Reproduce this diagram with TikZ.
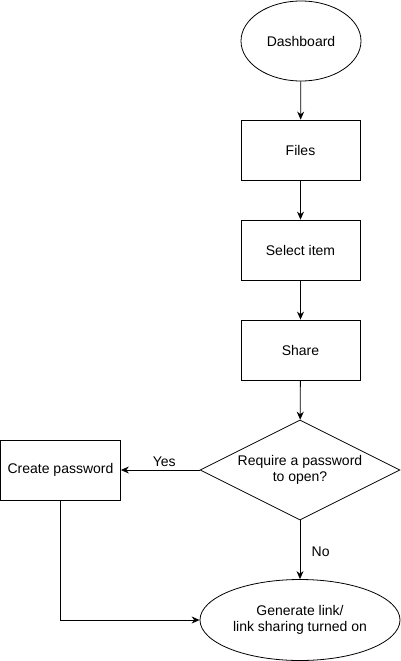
\documentclass[tikz,border=0pt]{standalone}
\usepackage{fontspec}
\setmainfont{Liberation Sans}
\usetikzlibrary{shapes.geometric}
\usetikzlibrary{arrows.meta}

\begin{document}
\begin{tikzpicture}[x=1pt, y=-1pt, line width=0.8pt,
    font=\fontsize{14}{16.5}\selectfont,
    box/.style = {draw, rectangle, minimum width=119pt, minimum height=60pt, inner sep=0pt},
    oval/.style = {draw, ellipse, inner sep=0pt, align=center},
    choice/.style = {draw, diamond, aspect=2, minimum width=200pt, minimum height=100pt, inner sep=0pt, align=center},
    flow/.style = {-{Stealth[length=8pt, width=7pt]}}]
  \useasboundingbox (0,0) rectangle (401,661);

  % main column
  \node[oval, minimum width=120pt, minimum height=80pt] (dash) at (301,41) {Dashboard};
  \node[box] (files) at (300.5,150) {Files};
  \node[box] (select) at (300.5,250) {Select item};
  \node[box] (share) at (300.5,350) {Share};
  \node[choice] (ask) at (300,470) {Require a password\\to open?};
  \node[oval, minimum width=200pt, minimum height=81pt] (gen) at (300,620) {Generate link/\\link sharing turned on};

  % side branch
  \node[box, minimum width=120pt] (pw) at (60.5,470) {Create password};

  \draw[flow] (dash) -- (files);
  \draw[flow] (files) -- (select);
  \draw[flow] (select) -- (share);
  \draw[flow] (share) -- (ask);
  \draw[flow] (ask) -- node[above, pos=0.45] {Yes} (pw);
  \draw[flow] (ask) -- node[right, xshift=8pt, yshift=-2pt] {No} (gen);
  \draw[flow] (pw.south) |- (gen.west);
\end{tikzpicture}
\end{document}
